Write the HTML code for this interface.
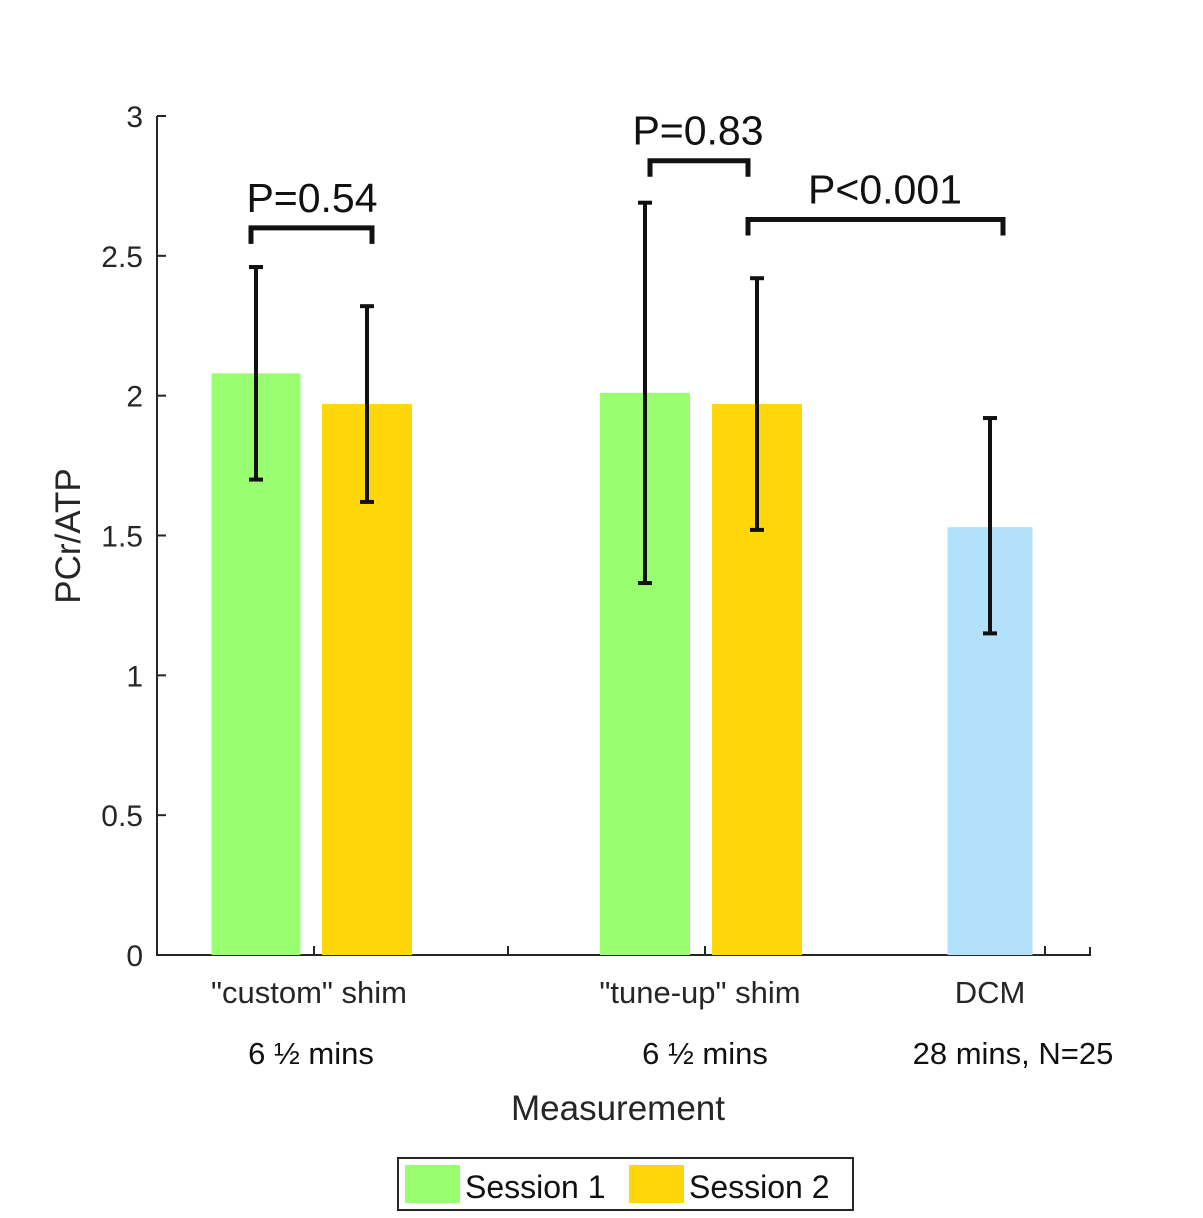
<!DOCTYPE html>
<html><head><meta charset="utf-8"><style>body{margin:0;background:#fff}svg{display:block;font-family:"Liberation Sans",Arial,sans-serif}</style></head>
<body>
<svg id="chart" width="1203" height="1218" viewBox="0 0 1203 1218">
<g id="axes"></g><g id="bars"></g><g id="errs"></g><g id="anno"></g>
<text transform="translate(80,536) rotate(-90)" text-anchor="middle" font-size="35" fill="#262626">PCr/ATP</text>
<text x="618" y="1120" text-anchor="middle" font-size="35" fill="#262626">Measurement</text>
<g>
<rect x="398" y="1158" width="455" height="52" fill="#fff" stroke="#262626" stroke-width="2"/>
<rect x="405" y="1165" width="55" height="38" fill="#99ff70"/>
<text x="465" y="1198" font-size="32" fill="#111">Session 1</text>
<rect x="629" y="1165" width="55" height="38" fill="#ffd60a"/>
<text x="689" y="1198" font-size="32" fill="#111">Session 2</text>
</g>
</svg>
<script>
const categories=['"custom" shim','"tune-up" shim','DCM'];
const subLabels=['6 ½ mins','6 ½ mins','28 mins, N=25'];
const means=[2.08,1.97,2.01,1.97,1.53];
const lowErr=[1.70,1.62,1.33,1.52,1.15];
const highErr=[2.46,2.32,2.69,2.42,1.92];
const barSeries=['s1','s2','s1','s2','dcm'];
const yTicks=[0,0.5,1,1.5,2,2.5,3];
const yTickLabels=['0','0.5','1','1.5','2','2.5','3'];
const pLabels=['P=0.54','P=0.83','P<0.001'];
const pHeights=[2.6,2.84,2.63];

const NS='http://www.w3.org/2000/svg';
const y0=955,yTop=116,yMax=3;
const Y=v=>y0-(v/yMax)*(y0-yTop);
const barCenters=[256,367,645,757,990];
const barW=[89,90,90,90,85];
const bx1=[251,650,748],bx2=[372,748,1003],labelX=[312,698,885];
const colors={s1:'#99ff70',s2:'#ffd60a',dcm:'#b3e0fa'};
function mk(tag,attrs,parent,txt){const e=document.createElementNS(NS,tag);for(const k in attrs)e.setAttribute(k,attrs[k]);if(txt!==undefined)e.textContent=txt;parent.appendChild(e);return e;}
const axes=document.getElementById('axes'),bars=document.getElementById('bars'),errs=document.getElementById('errs'),anno=document.getElementById('anno');
let e;
e=mk('path',{d:`M157,${yTop}V${y0}H1090V${y0-8}`,fill:'none',stroke:'#262626','stroke-width':2},axes);


yTicks.forEach((t,i)=>{
  mk('line',{x1:157,x2:166,y1:Y(t),y2:Y(t),stroke:'#262626','stroke-width':2},axes);
  e=mk('text',{x:143,y:Y(t)+11,'text-anchor':'end','font-size':30,fill:'#262626'},axes,yTickLabels[i]);
  
  
});
[314,508,705,1045].forEach(x=>mk('line',{x1:x,x2:x,y1:y0,y2:y0-9,stroke:'#262626','stroke-width':2},axes));
const catX=[309,700,990];
categories.forEach((c,i)=>{
  e=mk('text',{x:catX[i],y:1003,'text-anchor':'middle','font-size':31,fill:'#262626'},axes,c);
  
  
  e=mk('text',{x:[311,705,1013][i],y:1064,'text-anchor':'middle','font-size':31,fill:'#111'},axes,subLabels[i]);
  
  
});
means.forEach((m,i)=>{
  const cx=barCenters[i];
  e=mk('rect',{x:cx-barW[i]/2,y:Y(m),width:barW[i],height:y0-Y(m),fill:colors[barSeries[i]]},bars);
  
  
  const g=mk('g',{stroke:'#111','stroke-width':4},errs);
  
  
  mk('line',{x1:cx,x2:cx,y1:Y(lowErr[i]),y2:Y(highErr[i])},g);
  mk('line',{x1:cx-7,x2:cx+7,y1:Y(lowErr[i]),y2:Y(lowErr[i])},g);
  mk('line',{x1:cx-7,x2:cx+7,y1:Y(highErr[i]),y2:Y(highErr[i])},g);
});
pLabels.forEach((p,i)=>{
  const x1=bx1[i],x2=bx2[i],yy=Y(pHeights[i]);
  e=mk('path',{d:`M${x1},${yy+16}V${yy}H${x2}V${yy+16}`,fill:'none',stroke:'#111','stroke-width':5},anno);
  
  
  e=mk('text',{x:labelX[i],y:yy-16,'text-anchor':'middle','font-size':41,fill:'#111'},anno,p);
  
  
});
</script>
</body></html>
